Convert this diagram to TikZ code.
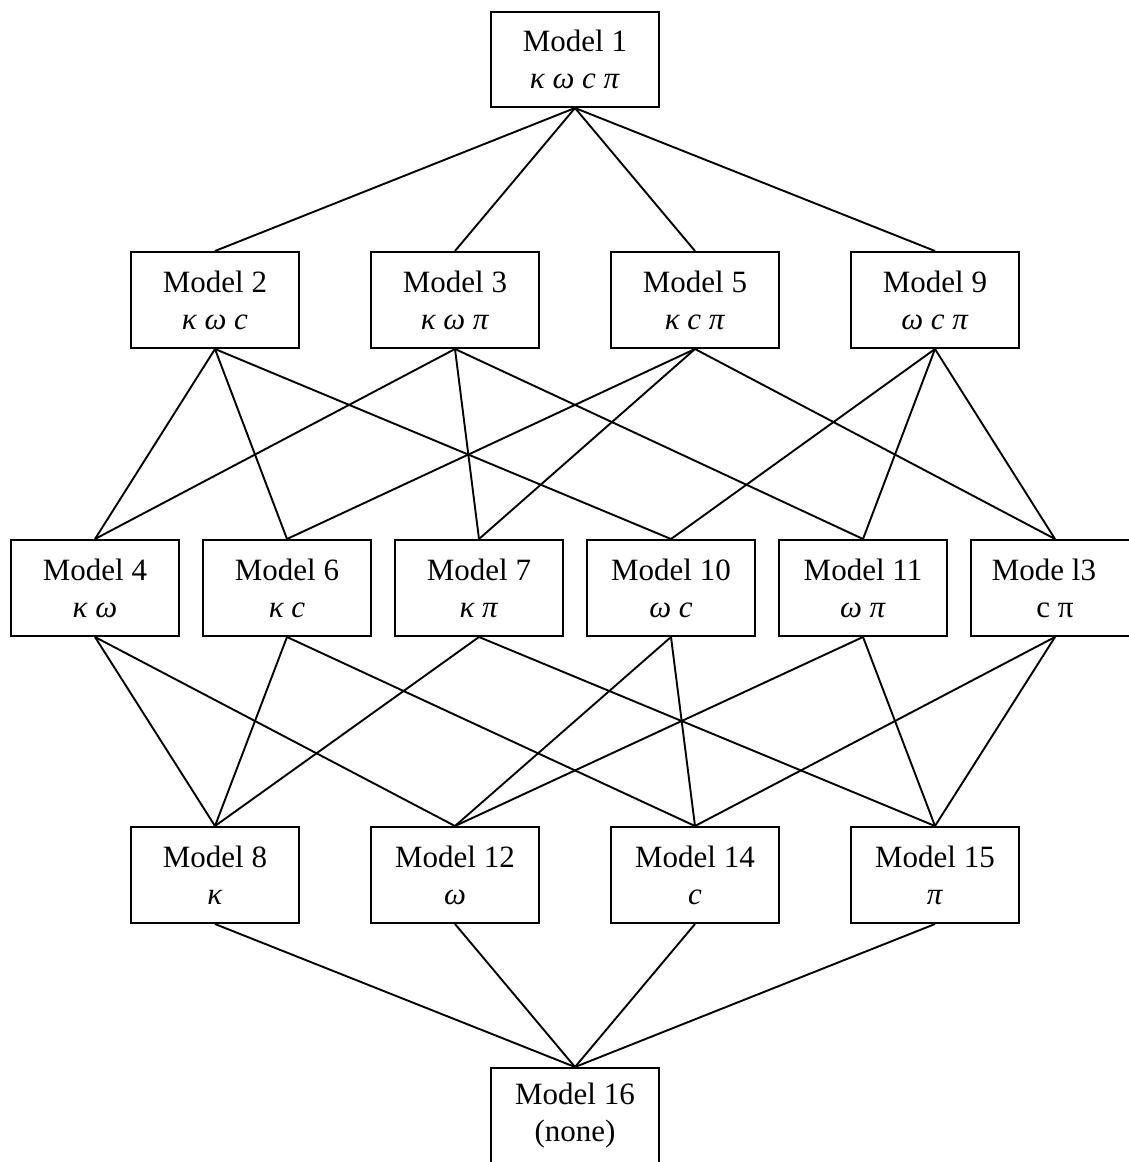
\documentclass[tikz,border=0pt]{standalone}
\usepackage{fontspec}
\setmainfont{Liberation Serif}
\tikzset{
  mbox/.style={draw, line width=2pt, minimum width=168pt, minimum height=96pt,
    inner sep=0pt, align=center, font=\fontsize{31}{37}\selectfont},
  link/.style={line width=1.9pt}
}
\begin{document}
\begin{tikzpicture}[x=1pt,y=-1pt]
\useasboundingbox (0,0) rectangle (1128,1162);
% row 1
\node[mbox, minimum height=95pt] (m1) at (575,59.5) {Model 1\\\textit{κ ω c π}};
% row 2
\node[mbox] (m2) at (215,300) {Model 2\\\textit{κ ω c}};
\node[mbox] (m3) at (455,300) {Model 3\\\textit{κ ω π}};
\node[mbox] (m5) at (695,300) {Model 5\\\textit{κ c π}};
\node[mbox] (m9) at (935,300) {Model 9\\\textit{ω c π}};
% row 3
\node[mbox] (m4) at (95,588) {Model 4\\\textit{κ ω}};
\node[mbox] (m6) at (287,588) {Model 6\\\textit{κ c}};
\node[mbox] (m7) at (479,588) {Model 7\\\textit{κ π}};
\node[mbox] (m10) at (671,588) {Model 10\\\textit{ω c}};
\node[mbox] (m11) at (863,588) {Model 11\\\textit{ω π}};
\node[mbox] (m13) at (1055,588) {Mode l3\hspace{22pt}\mbox{}\\c π};
% row 4
\node[mbox] (m8) at (215,875) {Model 8\\\textit{κ}};
\node[mbox] (m12) at (455,875) {Model 12\\\textit{ω}};
\node[mbox] (m14) at (695,875) {Model 14\\\textit{c}};
\node[mbox] (m15) at (935,875) {Model 15\\\textit{π}};
% row 5
\node[mbox] (m16) at (575,1116) {Model 16\\(none)};
% edges
\foreach \a/\b in {m1/m2,m1/m3,m1/m5,m1/m9,
  m2/m4,m2/m6,m2/m10, m3/m4,m3/m7,m3/m11, m5/m6,m5/m7,m5/m13, m9/m10,m9/m11,m9/m13,
  m4/m8,m4/m12, m6/m8,m6/m14, m7/m8,m7/m15, m10/m12,m10/m14, m11/m12,m11/m15, m13/m14,m13/m15,
  m8/m16,m12/m16,m14/m16,m15/m16}
  \draw[link] (\a.south) -- (\b.north);
\end{tikzpicture}
\end{document}
